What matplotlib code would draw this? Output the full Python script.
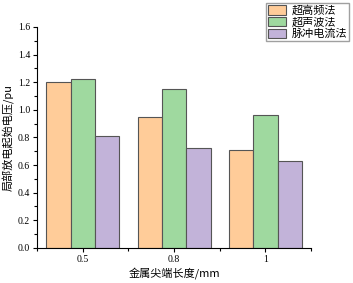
import numpy as np
import matplotlib.pyplot as plt
from matplotlib.ticker import MultipleLocator, FixedLocator

plt.rcParams['font.family'] = ['Noto Sans CJK SC', 'DejaVu Sans']
plt.rcParams['font.size'] = 7

# Data
lengths = ['0.5', '0.8', '1']
methods = ['超高频法', '超声波法', '脉冲电流法']
uhf = [1.20, 0.95, 0.71]
ultrasonic = [1.22, 1.15, 0.96]
pulse = [0.81, 0.72, 0.63]
colors = ['#FFCC99', '#9FD99F', '#C2B3D9']

fig = plt.figure(figsize=(3.53, 2.83), dpi=100)
ax = fig.add_axes([0.105, 0.124, 0.776, 0.781])

x = np.arange(len(lengths))
w = 0.8 / 3
for i, (vals, name) in enumerate(zip([uhf, ultrasonic, pulse], methods)):
    ax.bar(x + (i - 1) * w, vals, w, color=colors[i], edgecolor='#555555',
           linewidth=0.8, label=name)

ax.set_xlim(-0.5, 2.5)
ax.set_ylim(0, 1.6)
ax.set_xticks(x)
ax.set_xticklabels(lengths, family=['Liberation Serif', 'DejaVu Serif'])
ax.xaxis.set_minor_locator(FixedLocator([-0.5, 0.5, 1.5, 2.5]))
ax.yaxis.set_major_locator(MultipleLocator(0.2))
ax.yaxis.set_minor_locator(MultipleLocator(0.1))
ax.set_yticks(np.arange(0, 1.61, 0.2))
ax.set_yticklabels([f'{v:.1f}' for v in np.arange(0, 1.61, 0.2)],
                   family=['Liberation Serif', 'DejaVu Serif'])
ax.tick_params(which='major', length=3, width=0.8, direction='out', pad=2)
ax.tick_params(which='minor', length=2, width=0.8, direction='out')
ax.spines['top'].set_visible(False)
ax.spines['right'].set_visible(False)

ax.set_ylabel('局部放电起始电压/pu', fontsize=8, labelpad=2)
ax.set_xlabel('金属尖端长度/mm', fontsize=8, labelpad=2)

fig.legend(loc='upper right', bbox_to_anchor=(0.99, 0.99), fontsize=8,
           frameon=True, fancybox=False, edgecolor='#888888', borderpad=0.2,
           handlelength=1.6, handleheight=0.9, labelspacing=0.1,
           handletextpad=0.5, borderaxespad=0)

fig.savefig('out.png', dpi=100)
